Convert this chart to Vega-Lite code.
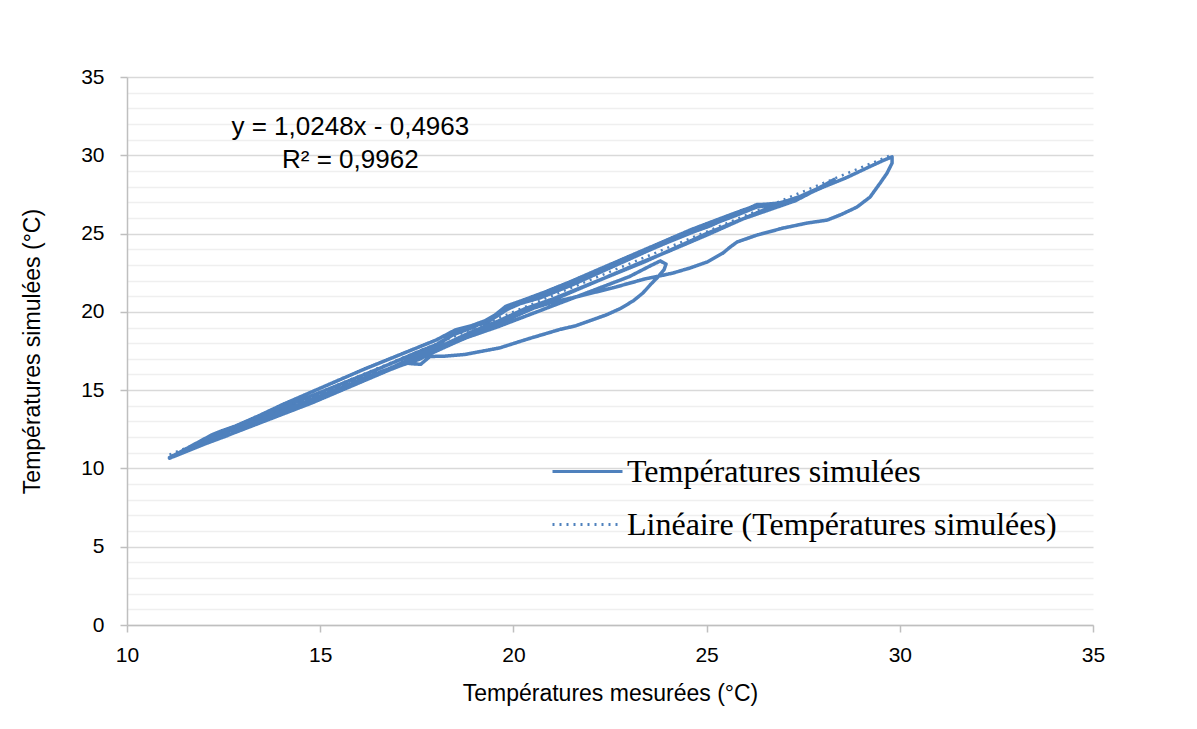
{
  "$schema": "https://vega.github.io/schema/vega-lite/v6.json",
  "width": 966,
  "height": 548,
  "autosize": {"type": "none"},
  "padding": {"left": 127, "top": 77, "right": 104, "bottom": 104},
  "background": "white",
  "config": {"view": {"stroke": null}, "font": "Liberation Sans"},
  "datasets": {
    "sim": [
      {"t":1,"x":11.1,"y":10.7},{"t":2,"x":11.3,"y":10.95},{"t":3,"x":11.6,"y":11.35},{"t":4,"x":11.9,"y":11.75},{"t":5,"x":12.2,"y":12.15},{"t":6,"x":12.4,"y":12.35},{"t":7,"x":12.8,"y":12.7},{"t":8,"x":13.4,"y":13.35},{"t":9,"x":14.0,"y":14.05},{"t":10,"x":14.7,"y":14.8},
      {"t":11,"x":15.4,"y":15.55},{"t":12,"x":16.1,"y":16.3},{"t":13,"x":16.8,"y":17.0},{"t":14,"x":17.5,"y":17.7},{"t":15,"x":18.0,"y":18.2},{"t":16,"x":18.5,"y":18.85},{"t":17,"x":18.9,"y":19.1},{"t":18,"x":19.4,"y":19.55},{"t":19,"x":19.8,"y":20.35},{"t":20,"x":20.2,"y":20.7},
      {"t":21,"x":20.8,"y":21.25},{"t":22,"x":21.5,"y":21.95},{"t":23,"x":22.2,"y":22.7},{"t":24,"x":23.0,"y":23.55},{"t":25,"x":23.8,"y":24.4},{"t":26,"x":24.6,"y":25.25},{"t":27,"x":25.4,"y":26.0},{"t":28,"x":26.0,"y":26.55},{"t":29,"x":26.4,"y":26.85},{"t":30,"x":26.9,"y":26.95},
      {"t":31,"x":27.4,"y":27.35},{"t":32,"x":27.9,"y":27.9},{"t":33,"x":28.3,"y":28.45},{"t":34,"x":28.0,"y":28.0},{"t":35,"x":27.3,"y":27.1},{"t":36,"x":26.6,"y":26.5},{"t":37,"x":25.9,"y":25.9},{"t":38,"x":25.0,"y":25.0},{"t":39,"x":24.2,"y":24.1},{"t":40,"x":23.4,"y":23.2},
      {"t":41,"x":22.6,"y":22.4},{"t":42,"x":21.8,"y":21.6},{"t":43,"x":21.0,"y":20.8},{"t":44,"x":20.3,"y":20.2},{"t":45,"x":19.6,"y":19.4},{"t":46,"x":18.9,"y":18.7},{"t":47,"x":18.2,"y":17.9},{"t":48,"x":17.8,"y":17.3},{"t":49,"x":17.3,"y":16.8},{"t":50,"x":16.6,"y":16.2},
      {"t":51,"x":15.8,"y":15.4},{"t":52,"x":15.0,"y":14.6},{"t":53,"x":14.2,"y":13.8},{"t":54,"x":13.4,"y":13.0},{"t":55,"x":12.6,"y":12.1},{"t":56,"x":12.0,"y":11.55},{"t":57,"x":11.5,"y":11.05},{"t":58,"x":11.2,"y":10.75},{"t":59,"x":11.5,"y":11.2},{"t":60,"x":12.0,"y":11.75},
      {"t":61,"x":12.6,"y":12.35},{"t":62,"x":13.5,"y":13.3},{"t":63,"x":14.5,"y":14.35},{"t":64,"x":15.5,"y":15.35},{"t":65,"x":16.5,"y":16.35},{"t":66,"x":17.4,"y":17.3},{"t":67,"x":18.1,"y":18.0},{"t":68,"x":18.7,"y":18.95},{"t":69,"x":19.3,"y":19.3},{"t":70,"x":20.0,"y":20.4},
      {"t":71,"x":20.7,"y":20.9},{"t":72,"x":21.5,"y":21.7},{"t":73,"x":22.4,"y":22.7},{"t":74,"x":23.3,"y":23.7},{"t":75,"x":24.2,"y":24.7},{"t":76,"x":25.1,"y":25.5},{"t":77,"x":25.8,"y":26.3},{"t":78,"x":26.3,"y":26.85},{"t":79,"x":26.8,"y":26.9},{"t":80,"x":27.4,"y":27.3},
      {"t":81,"x":28.0,"y":27.95},{"t":82,"x":28.6,"y":28.55},{"t":83,"x":29.2,"y":29.25},{"t":84,"x":29.6,"y":29.7},{"t":85,"x":29.8,"y":29.9},{"t":86,"x":29.8,"y":29.5},{"t":87,"x":29.67,"y":28.86},{"t":88,"x":29.49,"y":28.22},{"t":89,"x":29.23,"y":27.33},{"t":90,"x":28.89,"y":26.69},
      {"t":91,"x":28.45,"y":26.18},{"t":92,"x":28.12,"y":25.86},{"t":93,"x":27.6,"y":25.67},{"t":94,"x":26.98,"y":25.35},{"t":95,"x":26.3,"y":24.9},{"t":96,"x":25.79,"y":24.46},{"t":97,"x":25.61,"y":24.14},{"t":98,"x":25.42,"y":23.75},{"t":99,"x":25.01,"y":23.18},{"t":100,"x":24.57,"y":22.8},
      {"t":101,"x":24.13,"y":22.48},{"t":102,"x":23.8,"y":22.3},{"t":103,"x":23.4,"y":22.1},{"t":104,"x":22.6,"y":21.55},{"t":105,"x":21.7,"y":21.0},{"t":106,"x":21.0,"y":20.6},{"t":107,"x":20.4,"y":20.15},{"t":108,"x":19.6,"y":19.35},{"t":109,"x":18.7,"y":18.4},{"t":110,"x":18.1,"y":17.75},
      {"t":111,"x":17.6,"y":17.0},{"t":112,"x":17.0,"y":16.5},{"t":113,"x":16.3,"y":15.85},{"t":114,"x":16.9,"y":16.5},{"t":115,"x":17.5,"y":17.2},{"t":116,"x":18.2,"y":17.85},{"t":117,"x":19.6,"y":19.05},{"t":118,"x":21.3,"y":20.65},{"t":119,"x":23.0,"y":22.25},{"t":120,"x":23.55,"y":22.95},
      {"t":121,"x":23.8,"y":23.25},{"t":122,"x":23.95,"y":23.05},{"t":123,"x":23.9,"y":22.7},{"t":124,"x":23.75,"y":22.25},{"t":125,"x":23.55,"y":21.75},{"t":126,"x":23.35,"y":21.2},{"t":127,"x":23.1,"y":20.7},{"t":128,"x":22.76,"y":20.2},{"t":129,"x":22.4,"y":19.8},{"t":130,"x":22.0,"y":19.45},
      {"t":131,"x":21.6,"y":19.1},{"t":132,"x":21.21,"y":18.88},{"t":133,"x":20.35,"y":18.25},{"t":134,"x":19.65,"y":17.7},{"t":135,"x":18.75,"y":17.28},{"t":136,"x":18.23,"y":17.17},{"t":137,"x":17.84,"y":17.15},{"t":138,"x":17.6,"y":16.65},{"t":139,"x":17.3,"y":16.7},{"t":140,"x":17.8,"y":17.6},
      {"t":141,"x":18.4,"y":18.5},{"t":142,"x":19.0,"y":19.05},{"t":143,"x":19.6,"y":19.9},{"t":144,"x":20.2,"y":20.55},{"t":145,"x":21.0,"y":21.3},{"t":146,"x":22.0,"y":22.4},{"t":147,"x":23.0,"y":23.4},{"t":148,"x":24.0,"y":24.45},{"t":149,"x":25.0,"y":25.45},{"t":150,"x":25.8,"y":26.2},
      {"t":151,"x":26.3,"y":26.7},{"t":152,"x":26.8,"y":26.85},{"t":153,"x":26.0,"y":26.0},{"t":154,"x":25.0,"y":24.9},{"t":155,"x":24.0,"y":23.85},{"t":156,"x":23.2,"y":23.05},{"t":157,"x":22.3,"y":22.1},{"t":158,"x":21.3,"y":21.05},{"t":159,"x":20.3,"y":20.0},{"t":160,"x":19.4,"y":19.0},
      {"t":161,"x":18.5,"y":18.05},{"t":162,"x":17.7,"y":17.15},{"t":163,"x":16.8,"y":16.3},{"t":164,"x":15.8,"y":15.25},{"t":165,"x":14.8,"y":14.2},{"t":166,"x":13.8,"y":13.25},{"t":167,"x":12.8,"y":12.3},{"t":168,"x":12.0,"y":11.55},{"t":169,"x":11.4,"y":11.0},{"t":170,"x":11.1,"y":10.65}
    ],
    "trend": [
      {"t":1,"x":11.1,"y":10.879,"series":"Linéaire (Températures simulées)"},
      {"t":2,"x":29.8,"y":30.043,"series":"Linéaire (Températures simulées)"}
    ],
    "eq": [
      {"x":15.78,"y":31.8,"label":"y = 1,0248x - 0,4963"},
      {"x":15.78,"y":29.69,"label":"R² = 0,9962"}
    ]
  },
  "encoding": {
    "x": {
      "field": "x", "type": "quantitative",
      "scale": {"domain": [10, 35], "nice": false, "zero": false},
      "axis": {
        "values": [10, 15, 20, 25, 30, 35],
        "grid": false, "tickSize": 7, "tickColor": "#bfbfbf", "tickWidth": 1.5,
        "domainColor": "#bfbfbf", "domainWidth": 1.5,
        "labelFontSize": 21, "labelColor": "#000", "labelPadding": 12, "labelFlush": false,
        "title": "Températures mesurées (°C)", "titleFontSize": 23, "titleFontWeight": "normal",
        "titleColor": "#000", "titlePadding": 17
      }
    },
    "y": {
      "field": "y", "type": "quantitative",
      "scale": {"domain": [0, 35], "nice": false, "zero": false},
      "axis": {
        "values": [0,1,2,3,4,5,6,7,8,9,10,11,12,13,14,15,16,17,18,19,20,21,22,23,24,25,26,27,28,29,30,31,32,33,34,35],
        "grid": true,
        "gridColor": {"condition": {"test": "datum.value % 5 === 0", "value": "#d9d9d9"}, "value": "#efefef"},
        "gridWidth": 1.5,
        "tickColor": {"condition": {"test": "datum.value % 5 === 0", "value": "#bfbfbf"}, "value": "transparent"},
        "tickSize": 7, "tickWidth": 1.5,
        "labelExpr": "datum.value % 5 === 0 ? datum.label : ''",
        "labelOverlap": false, "labelFlush": false,
        "labelFontSize": 21, "labelColor": "#000", "labelPadding": 16,
        "domainColor": "#bfbfbf", "domainWidth": 1.5,
        "title": "Températures simulées (°C)", "titleFontSize": 23, "titleFontWeight": "normal",
        "titleColor": "#000", "titlePadding": 36
      }
    }
  },
  "layer": [
    {
      "data": {"name": "sim"},
      "transform": [{"calculate": "'Températures simulées'", "as": "series"}],
      "mark": {"type": "line", "strokeWidth": 3.5, "strokeJoin": "round", "strokeCap": "round"},
      "encoding": {
        "order": {"field": "t", "type": "quantitative"},
        "color": {
          "field": "series", "type": "nominal",
          "scale": {"domain": ["Températures simulées", "Linéaire (Températures simulées)"], "range": ["#4f81bd", "#4f81bd"]},
          "legend": {"title": null, "orient": "none", "legendX": 424, "legendY": 358, "symbolType": "stroke", "symbolSize": 4900, "symbolStrokeWidth": 3, "labelFont": "Liberation Serif", "labelFontSize": 32, "labelColor": "#000", "labelLimit": 0, "rowPadding": -18, "labelOffset": 3, "padding": 0}
        },
        "strokeDash": {
          "field": "series", "type": "nominal",
          "scale": {"domain": ["Températures simulées", "Linéaire (Températures simulées)"], "range": [[1, 0], [2, 5]]},
          "legend": {"title": null, "orient": "none", "legendX": 424, "legendY": 358, "symbolType": "stroke", "symbolSize": 4900, "symbolStrokeWidth": 3, "labelFont": "Liberation Serif", "labelFontSize": 32, "labelColor": "#000", "labelLimit": 0, "rowPadding": -18, "labelOffset": 3, "padding": 0}
        }
      }
    },
    {
      "data": {"name": "trend"},
      "mark": {"type": "line", "strokeWidth": 2.5},
      "encoding": {
        "order": {"field": "t", "type": "quantitative"},
        "color": {"field": "series", "type": "nominal"},
        "strokeDash": {"field": "series", "type": "nominal"}
      }
    },
    {
      "data": {"name": "eq"},
      "mark": {"type": "text", "font": "Liberation Sans", "fontSize": 26, "color": "#000", "align": "center", "baseline": "middle"},
      "encoding": {"text": {"field": "label", "type": "nominal"}}
    }
  ]
}
